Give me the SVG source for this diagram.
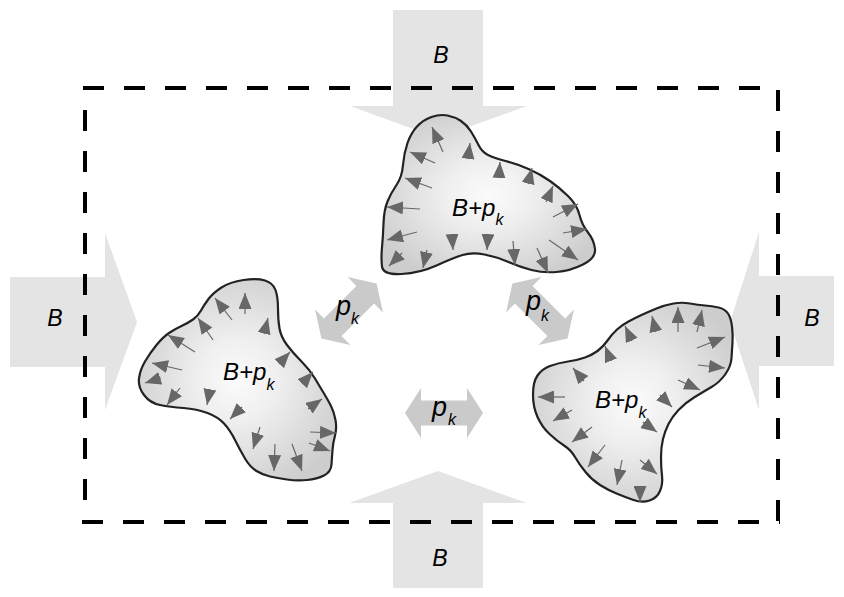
<svg xmlns="http://www.w3.org/2000/svg" width="844" height="597" viewBox="0 0 844 597">
<defs>
<style>
.big{fill:#e4e4e4}
.dbl{fill:#cacaca}
.dash{stroke:#000;stroke-width:4;stroke-dasharray:21 20;fill:none}
.blob{fill:url(#g);stroke:#222;stroke-width:2.2}
.ia line{stroke:#676767;stroke-width:1.2;marker-end:url(#ah)}
text{font-family:"Liberation Sans",Arial,sans-serif;font-style:italic;fill:#000}
.lb{font-size:23px}
.bt{font-size:24px}
.pk{font-size:27px}
.sub{font-size:16px}
</style>
<radialGradient id="g" cx="50%" cy="50%" r="58%">
<stop offset="0" stop-color="#fbfbfb"/>
<stop offset="0.35" stop-color="#efefef"/>
<stop offset="1" stop-color="#cdcdcd"/>
</radialGradient>
<marker id="ah" markerUnits="userSpaceOnUse" markerWidth="16" markerHeight="13" refX="16" refY="6.5" orient="auto" viewBox="0 0 16 13">
<path d="M0,0 L16,6.5 L0,13 Z" fill="#676767"/>
</marker>
<path id="da" d="M-39,0 L-23,-25 L-23,-12.5 L23,-12.5 L23,-25 L39,0 L23,25 L23,12.5 L-23,12.5 L-23,25 Z"/>
</defs>

<g id="bigArrows">
<g id="arrowTop"><path class="big" d="M393,10 H483 V106 H527 L438,138 L350,106 H393 Z"/><text class="lb" x="441" y="63" text-anchor="middle">B</text></g>
<g id="arrowBottom"><path class="big" d="M393,588 H483 V503 H527 L438,471 L349,503 H393 Z"/><text class="lb" x="440" y="566" text-anchor="middle">B</text></g>
<g id="arrowLeft"><path class="big" d="M10,277 H105 V233 L137,322 L105,410 V367 H10 Z"/><text class="lb" x="55" y="326" text-anchor="middle">B</text></g>
<g id="arrowRight"><path class="big" d="M834,276 H759 V232 L730,322 L759,410 V366 H834 Z"/><text class="lb" x="812" y="326" text-anchor="middle">B</text></g>
</g>

<g id="boundary">
<line class="dash" x1="83" y1="88" x2="780" y2="88"/>
<line class="dash" x1="778" y1="90" x2="778" y2="524"/>
<line class="dash" x1="85" y1="110" x2="85" y2="524"/>
<line class="dash" x1="82" y1="522" x2="780" y2="522"/>
</g>

<g id="blobTop">
<path class="blob" d="M382,266.5 Q383,275 401.5,274 Q420,273 436.5,265.5 Q453,258 462.5,255 Q472,252 484.5,254.5 Q497,257 508.5,262 Q520,267 531.5,270 Q543,273 556.5,272 Q570,271 583,264.5 Q596,258 595,249 Q594,240 588,232.5 Q582,225 579.5,215 Q577,205 568.5,196.5 Q560,188 550,181 Q540,174 528.5,169 Q517,164 505.5,161 Q494,158 488,155 Q482,152 478.5,145 Q475,138 471,131.5 Q467,125 461,121 Q455,117 447.5,115.5 Q440,114 431.5,117 Q423,120 417,126.5 Q411,133 407.5,143 Q404,153 403,165 Q402,177 396.5,185 Q391,193 387.5,201.5 Q384,210 383.5,223.5 Q383,237 382,247.5 Q381,258 382,266.5 Z"/>
<g class="ia">
<line x1="443" y1="152" x2="432" y2="127"/>
<line x1="468" y1="159" x2="470" y2="143"/>
<line x1="435" y1="163" x2="410" y2="152"/>
<line x1="432" y1="188" x2="405" y2="178"/>
<line x1="420" y1="209" x2="387" y2="207"/>
<line x1="417" y1="232" x2="387" y2="240"/>
<line x1="402" y1="253" x2="389" y2="266"/>
<line x1="427" y1="250" x2="423" y2="268"/>
<line x1="452" y1="234" x2="453" y2="250"/>
<line x1="488" y1="234" x2="487" y2="250"/>
<line x1="513" y1="241" x2="515" y2="265"/>
<line x1="537" y1="248" x2="548" y2="273"/>
<line x1="549" y1="240" x2="578" y2="260"/>
<line x1="563" y1="233" x2="587" y2="229"/>
<line x1="553" y1="217" x2="578" y2="204"/>
<line x1="546" y1="202" x2="553" y2="186"/>
<line x1="528" y1="184" x2="532" y2="168"/>
<line x1="499" y1="178" x2="500" y2="162"/>
</g>
<text class="bt" x="452" y="216">B+p<tspan class="sub" dy="9">k</tspan></text>
</g>

<g id="blobLeft">
<path class="blob" d="M208.5,299 Q213,293 221.5,287.5 Q230,282 243.5,280 Q257,278 265,280.5 Q273,283 275.5,290 Q278,297 278,308.5 Q278,320 279.5,328.5 Q281,337 287,345 Q293,353 301.5,361.5 Q310,370 315,378.5 Q320,387 324,393.5 Q328,400 331,406 Q334,412 335.5,420 Q337,428 335,435.5 Q333,443 332.5,450 Q332,457 331.5,464.5 Q331,472 324,475.5 Q317,479 307,480 Q297,481 287,479.5 Q277,478 270,476.5 Q263,475 256.5,471 Q250,467 245,458.5 Q240,450 235,440 Q230,430 224,423.5 Q218,417 207.5,413 Q197,409 183.5,408 Q170,407 160,405 Q150,403 144,395 Q138,387 139,378.5 Q140,370 145,361.5 Q150,353 156.5,345 Q163,337 169,333 Q175,329 181.5,326 Q188,323 193,319.5 Q198,316 201,310.5 Q204,305 208.5,299 Z"/>
<g class="ia">
<line x1="245" y1="314" x2="245" y2="293"/>
<line x1="232" y1="320" x2="215" y2="298"/>
<line x1="213" y1="340" x2="198" y2="318"/>
<line x1="195" y1="352" x2="168" y2="335"/>
<line x1="182" y1="370" x2="152" y2="363"/>
<line x1="161" y1="378" x2="145" y2="383"/>
<line x1="180" y1="388" x2="167" y2="405"/>
<line x1="210" y1="389" x2="207" y2="405"/>
<line x1="264" y1="334" x2="268" y2="318"/>
<line x1="279" y1="364" x2="290" y2="352"/>
<line x1="302" y1="384" x2="313" y2="372"/>
<line x1="308" y1="409" x2="322" y2="399"/>
<line x1="242" y1="407" x2="230" y2="419"/>
<line x1="260" y1="427" x2="253" y2="449"/>
<line x1="275" y1="444" x2="274" y2="471"/>
<line x1="292" y1="444" x2="302" y2="471"/>
<line x1="309" y1="443" x2="330" y2="451"/>
<line x1="310" y1="432" x2="336" y2="433"/>
</g>
<text class="bt" x="223" y="380">B+p<tspan class="sub" dy="10">k</tspan></text>
</g>

<g id="blobRight">
<path class="blob" d="M641.5,315 Q648,312 656.5,308.5 Q665,305 673.5,303.5 Q682,302 690,303.5 Q698,305 705,305.5 Q712,306 718.5,307.5 Q725,309 728,313.5 Q731,318 732,326.5 Q733,335 732.5,342.5 Q732,350 731.5,358 Q731,366 725.5,374 Q720,382 711.5,387 Q703,392 694,397.5 Q685,403 678.5,410 Q672,417 668.5,424 Q665,431 663,439 Q661,447 661,457 Q661,467 662,475.5 Q663,484 660,491 Q657,498 649.5,500.5 Q642,503 633.5,500 Q625,497 616.5,493.5 Q608,490 600,485 Q592,480 585.5,472 Q579,464 575,457 Q571,450 564,445.5 Q557,441 549.5,434 Q542,427 537.5,417 Q533,407 533,394.5 Q533,382 537.5,375.5 Q542,369 550,366 Q558,363 568,361.5 Q578,360 585,357.5 Q592,355 597.5,351 Q603,347 607.5,340.5 Q612,334 617,329.5 Q622,325 628.5,321.5 Q635,318 641.5,315 Z"/>
<g class="ia">
<line x1="678" y1="332" x2="678" y2="307"/>
<line x1="697" y1="332" x2="702" y2="310"/>
<line x1="656" y1="332" x2="652" y2="316"/>
<line x1="632" y1="341" x2="625" y2="326"/>
<line x1="611" y1="361" x2="605" y2="346"/>
<line x1="584" y1="381" x2="573" y2="368"/>
<line x1="697" y1="348" x2="725" y2="337"/>
<line x1="698" y1="365" x2="725" y2="368"/>
<line x1="678" y1="380" x2="700" y2="390"/>
<line x1="660" y1="395" x2="672" y2="407"/>
<line x1="643" y1="422" x2="657" y2="432"/>
<line x1="565" y1="397" x2="538" y2="397"/>
<line x1="572" y1="410" x2="553" y2="421"/>
<line x1="592" y1="427" x2="572" y2="442"/>
<line x1="605" y1="445" x2="588" y2="467"/>
<line x1="622" y1="460" x2="617" y2="485"/>
<line x1="640" y1="460" x2="657" y2="474"/>
<line x1="640" y1="486" x2="640" y2="502"/>
</g>
<text class="bt" x="595" y="408">B+p<tspan class="sub" dy="10">k</tspan></text>
</g>

<g id="pkLeft">
<use href="#da" class="dbl" transform="translate(349,311) rotate(-45)"/>
<text class="pk" x="336" y="315">p<tspan class="sub" dy="9">k</tspan></text>
</g>
<g id="pkRight">
<use href="#da" class="dbl" transform="translate(540,311) rotate(45)"/>
<text class="pk" x="526" y="310">p<tspan class="sub" dy="11">k</tspan></text>
</g>
<g id="pkBottom">
<use href="#da" class="dbl" transform="translate(444,413)"/>
<text class="pk" x="432" y="416">p<tspan class="sub" dx="1" dy="9">k</tspan></text>
</g>
</svg>
